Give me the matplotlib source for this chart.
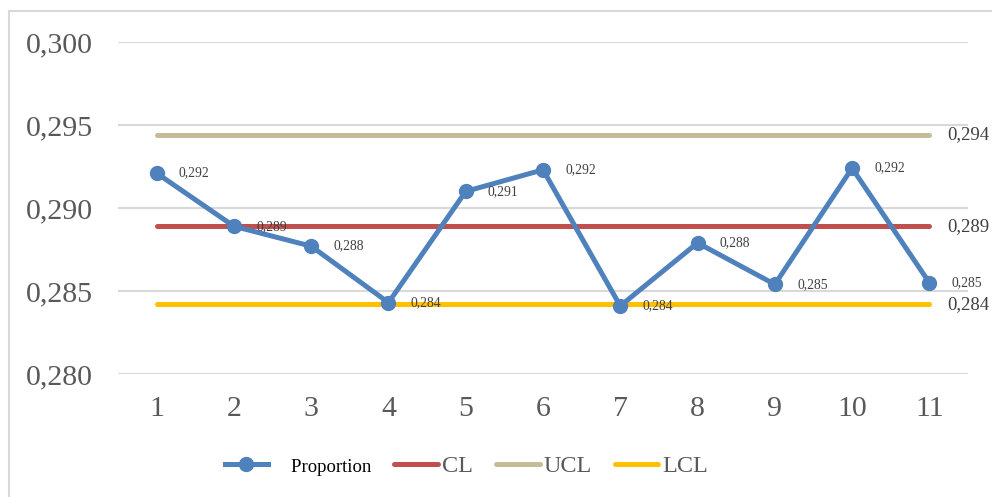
import matplotlib
matplotlib.use("Agg")
import matplotlib.pyplot as plt
from matplotlib.lines import Line2D
from matplotlib.patches import Rectangle

# control chart data
samples = list(range(1, 12))
proportion = [0.2921, 0.2889, 0.2877, 0.2843, 0.2910, 0.2923, 0.2841, 0.2879, 0.2854, 0.2924, 0.2855]
cl = 0.2889
ucl = 0.2944
lcl = 0.2842
yticks = [0.280, 0.285, 0.290, 0.295, 0.300]

blue = "#4F81BD"
red = "#C0504D"
tan = "#C4BD97"
gold = "#FFC000"
grey_txt = "#595959"
label_txt = "#404040"

plt.rcParams["font.family"] = ["Liberation Serif", "DejaVu Serif"]

def fmt(v):
    return f"{v:.3f}".replace(".", ",")

fig = plt.figure(figsize=(9.92, 4.97), dpi=100)
ax = fig.add_axes([118 / 992, 1 - 374 / 497, 850 / 992, 332 / 497])

# outer frame of the chart area
fig.patches.append(Rectangle((9 / 992, -0.1), 1.2, 1 - 11 / 497 + 0.1, transform=fig.transFigure,
                             fill=False, edgecolor="#D9D9D9", linewidth=1.5))

ax.set_xlim(0.5, 11.5)
ax.set_ylim(0.280, 0.300)
ax.set_yticks(yticks)
ax.set_yticklabels([fmt(v) for v in yticks])
ax.set_xticks(samples)
ax.set_xticklabels([str(s) for s in samples])
ax.grid(axis="y", color="#D9D9D9", linewidth=1.5)
ax.set_axisbelow(True)
for s in ax.spines.values():
    s.set_visible(False)
ax.tick_params(length=0, labelsize=21.5, labelcolor=grey_txt)
ax.tick_params(axis="y", pad=18)
ax.tick_params(axis="x", pad=16)

n = len(samples)
ax.plot(samples, [cl] * n, color=red, lw=3.6, solid_capstyle="round", zorder=3)
ax.plot(samples, [ucl] * n, color=tan, lw=3.6, solid_capstyle="round", zorder=3)
ax.plot(samples, [lcl] * n, color=gold, lw=3.6, solid_capstyle="round", zorder=3)
ax.plot(samples, proportion, color=blue, lw=3.6, marker="o", markersize=10, zorder=4)

# point labels
for x, y in zip(samples, proportion):
    ax.annotate(fmt(y), (x, y), xytext=(16, 0), textcoords="offset points",
                va="center", ha="left", fontsize=9.8, color=label_txt, zorder=5)

# limit values at the right end
for v in (ucl, cl, lcl):
    ax.annotate(fmt(v), (samples[-1], v), xytext=(13, 0), textcoords="offset points",
                va="center", ha="left", fontsize=13.5, color=label_txt, annotation_clip=False)

handles = [
    Line2D([], [], color=blue, lw=3.6, marker="o", markersize=10),
    Line2D([], [], color=red, lw=3.6, solid_capstyle="round"),
    Line2D([], [], color=tan, lw=3.6, solid_capstyle="round"),
    Line2D([], [], color=gold, lw=3.6, solid_capstyle="round"),
]
leg = fig.legend(handles, ["    Proportion", "CL", "UCL", "LCL"], loc="center",
                 bbox_to_anchor=(0.470, 1 - 466 / 497), ncol=4, frameon=False,
                 fontsize=17.5, handlelength=1.8, handletextpad=0.15, columnspacing=0.95)
for t in leg.get_texts():
    t.set_color(grey_txt)
leg.get_texts()[0].set_color("black")
leg.get_texts()[0].set_fontsize(13.5)

fig.savefig("out.png", dpi=100)
